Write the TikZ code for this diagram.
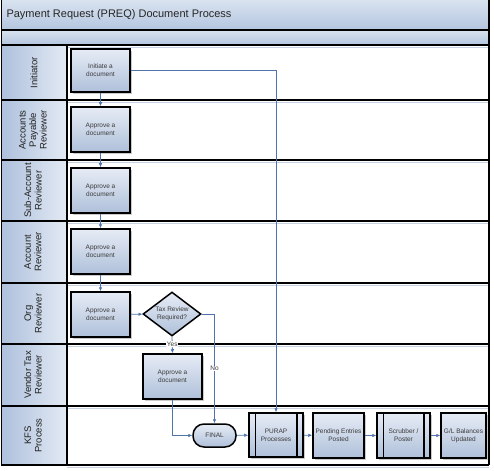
\documentclass[tikz,border=0pt]{standalone}
\usepackage{fontspec}
\setmainfont{Liberation Sans}
\usetikzlibrary{shapes.geometric,arrows.meta,shadows}
\definecolor{conn}{HTML}{4F73AB}
\definecolor{boxtop}{HTML}{E6ECF5}
\definecolor{boxbot}{HTML}{AFC0DA}
\definecolor{hdrA}{HTML}{AEC0DC}
\definecolor{hdrB}{HTML}{E3EAF4}
\definecolor{bandtop}{HTML}{D9E3F0}
\definecolor{bandbot}{HTML}{B3C5DF}
\definecolor{sepline}{HTML}{C6D1E3}
\definecolor{txt}{HTML}{3A3A3A}
\definecolor{lbl}{HTML}{222222}
\begin{document}
\begin{tikzpicture}[x=1pt,y=-1pt,
  procbox/.style={rectangle, draw=black, line width=1.5pt, top color=boxtop, bottom color=boxbot,
    align=center, text=txt, font=\fontsize{6.5}{7.7}\selectfont, inner sep=1pt,
    drop shadow={shadow xshift=2pt, shadow yshift=-2pt, fill=black!35, opacity=0.6}},
  decbox/.style={diamond, draw=black, line width=1.5pt, top color=boxtop, bottom color=boxbot,
    align=center, text=txt, font=\fontsize{6.5}{7.7}\selectfont, inner sep=0pt, aspect=1.32,
    minimum width=58pt, minimum height=44pt},
  termbox/.style={rectangle, rounded corners=11pt, draw=black, line width=1.5pt, top color=boxtop, bottom color=boxbot,
    align=center, text=txt, font=\fontsize{6.5}{7.7}\selectfont, minimum width=43pt, minimum height=23pt, inner sep=0pt},
  lanelabel/.style={rotate=90, align=center, text=lbl, font=\fontsize{9.5}{10.5}\selectfont},
  flow/.style={draw=conn, line width=0.8pt, -{Latex[length=4pt,width=3.6pt]}},
  edgelabel/.style={text=txt, font=\fontsize{6.5}{7.7}\selectfont, fill=white, inner sep=0.6pt}
]
\useasboundingbox (0,0) rectangle (494,470);
% title band
\shade[top color=bandtop, bottom color=bandbot] (1,0) rectangle (489,30);
\shade[top color=bandtop, bottom color=bandbot] (1,30) rectangle (489,45);
\node[anchor=west, font=\fontsize{11}{13}\selectfont, text=black!85] (title) at (3,15) {Payment Request (PREQ) Document Process};
% lane headers
\foreach \ya/\yb in {45/100,100/160,160/221,221/283,283/344,344/406,406/465}{
  \shade[left color=hdrA, right color=hdrB] (1,\ya) rectangle (67,\yb);
}
% lane separators
\foreach \yy in {45,100,160,221,283,344,406,465}{
  \draw[sepline, line width=1.5pt] (67,\yy+2.5) -- (489,\yy+2.5);
}
\foreach \yy in {30,45,100,160,221,283,344,406,465}{
  \draw[black, line width=1.4pt] (1,\yy) -- (489,\yy);
}
\draw[black, line width=1.4pt] (67,45) -- (67,465);
\draw[black, line width=1.4pt] (489,0) -- (489,465);
\draw[black, line width=1pt] (1,0) -- (1,465);
% lane labels
\node[lanelabel] (l1) at (34,72.5) {Initiator};
\node[lanelabel] (l2) at (33,130) {Accounts\\Payable\\Reviewer};
\node[lanelabel] (l3) at (33,190.5) {Sub-Account\\Reviewer};
\node[lanelabel] (l4) at (33,252) {Account\\Reviewer};
\node[lanelabel] (l5) at (33,313.5) {Org\\Reviewer};
\node[lanelabel] (l6) at (33,375) {Vendor Tax\\Reviewer};
\node[lanelabel] (l7) at (33,435.5) {KFS\\Process};
% boxes
\node[procbox, minimum width=59pt, minimum height=43pt] (init) at (100.5,70.5) {Initiate a\\document};
\node[procbox, minimum width=59pt, minimum height=45pt] (ap) at (100.5,129.5) {Approve a\\document};
\node[procbox, minimum width=59pt, minimum height=45pt] (sub) at (100.5,190.5) {Approve a\\document};
\node[procbox, minimum width=59pt, minimum height=45pt] (acc) at (100.5,251.5) {Approve a\\document};
\node[procbox, minimum width=59pt, minimum height=45pt] (org) at (100.5,314.5) {Approve a\\document};
\node[decbox] (dia) at (172,314) {Tax Review\\Required?};
\node[procbox, minimum width=59pt, minimum height=45pt] (vt) at (172.5,376.5) {Approve a\\document};
\node[termbox] (final) at (214.5,435.5) {FINAL};
\node[procbox, minimum width=54pt, minimum height=44pt] (purap) at (276,435) {PURAP\\Processes};
\draw[black, line width=1.5pt] ([xshift=7pt]purap.north west) -- ([xshift=7pt]purap.south west);
\draw[black, line width=1.5pt] ([xshift=-7pt]purap.north east) -- ([xshift=-7pt]purap.south east);
\node[procbox, minimum width=51pt, minimum height=45pt] (pend) at (338.5,435.5) {Pending Entries\\Posted};
\node[procbox, minimum width=53pt, minimum height=45pt] (scrub) at (403.5,435.5) {Scrubber /\\Poster};
\draw[black, line width=1.5pt] ([xshift=7pt]scrub.north west) -- ([xshift=7pt]scrub.south west);
\draw[black, line width=1.5pt] ([xshift=-7pt]scrub.north east) -- ([xshift=-7pt]scrub.south east);
\node[procbox, minimum width=45pt, minimum height=45pt] (gl) at (463.5,435.5) {G/L Balances\\Updated};
% connectors
\draw[flow] (init.east) -| (purap.north);
\draw[flow] (init) -- (ap);
\draw[flow] (ap) -- (sub);
\draw[flow] (sub) -- (acc);
\draw[flow] (acc) -- (org);
\draw[flow] (org) -- (dia);
\draw[flow] (dia.south) -- (vt.north) node[edgelabel, pos=0.45] {Yes};
\draw[flow] (dia.east) -| (final.north) node[edgelabel, pos=0.75] {No};
\draw[flow] (vt.south) |- (final.west);
\draw[flow] (final) -- (purap);
\draw[flow] (purap) -- (pend);
\draw[flow] (pend) -- (scrub);
\draw[flow] (scrub) -- (gl);
\end{tikzpicture}
\end{document}
